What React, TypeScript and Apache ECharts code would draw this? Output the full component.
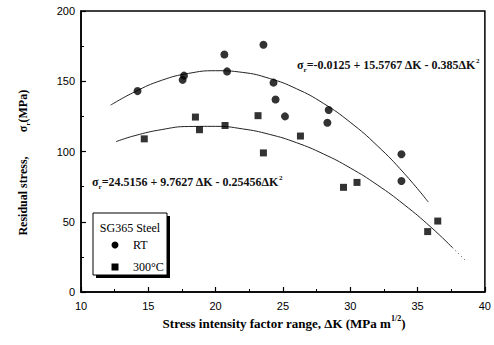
import React, { useEffect, useRef } from "react";
import * as echarts from "echarts";

// RT (room temperature) measured points
const rtK = [14.2, 17.55, 17.65, 20.65, 20.85, 23.55, 24.3, 24.45, 25.15, 28.4, 28.3, 33.8, 33.8];
const rtS = [143, 151, 154, 169, 157, 176, 149, 137, 125, 129.5, 120.5, 98, 79];

// 300°C measured points
const hotK = [14.7, 18.5, 18.8, 20.7, 23.15, 23.55, 26.3, 29.5, 30.5, 35.75, 36.5];
const hotS = [109, 124.5, 115.5, 118.5, 125.5, 99, 111, 74.5, 78, 43, 50.5];

// fitted curves
const rtFitK = [12.2, 14, 16, 18, 20, 22, 24, 26, 28, 30, 32, 34, 35.8];
const rtFitS = [133, 142.5, 150.7, 155.6, 157.5, 156.3, 152, 144.7, 134.3, 120.8, 104.2, 84.5, 64];
const hotFitK = [12.6, 14, 16, 18, 20, 22, 24, 26, 28, 30, 32, 34, 36, 37.6];
const hotFitS = [107, 111.3, 115.6, 117.8, 117.9, 116.1, 112.2, 106.3, 98.3, 88.3, 76.3, 62.2, 46.1, 31.5];
const hotTailK = [37.6, 38.5];
const hotTailS = [31.5, 23];

const xTickMin = 10;
const xTickMax = 40;
const xStep = 5;
const yTickMin = 0;
const yTickMax = 200;
const yStep = 50;

const eqRT = "σr=-0.0125 + 15.5767 ΔK - 0.385ΔK²";
const eqHot = "σr=24.5156 + 9.7627 ΔK - 0.25456ΔK²";
const legendTitle = "SG365 Steel";
const legendRT = "RT";
const legendHot = "300°C";

const SERIF = "'Liberation Serif', 'Times New Roman', serif";
const SANS = "'Liberation Sans', Arial, sans-serif";

const pairs = (xs: number[], ys: number[]) => xs.map((x, i) => [x, ys[i]]);

const eqRich = {
  m: { fontSize: 12, fontWeight: "bold", fontFamily: SERIF, fill: "#111", lineHeight: 16, verticalAlign: "middle" },
  s: { fontSize: 7, fontWeight: "bold", fontFamily: SERIF, fill: "#111", lineHeight: 8, verticalAlign: "bottom" },
  p: { fontSize: 7, fontWeight: "bold", fontFamily: SERIF, fill: "#111", lineHeight: 8, verticalAlign: "top" },
};

const eqText = (s: string) => {
  const body = s.slice(2, s.length - 1);
  return `{m|σ}{s|r}{m|${body}}{p|2}`;
};

export default function App() {
  const ref = useRef<HTMLDivElement>(null);
  useEffect(() => {
    if (!ref.current) return;
    const chart = echarts.init(ref.current, undefined, { renderer: "svg" });
    const axisLine = { show: true, lineStyle: { color: "#000", width: 1.5 } };
    chart.setOption({
      animation: false,
      backgroundColor: "#fff",
      grid: { left: 81, right: 9, top: 11, bottom: 53, show: true, borderColor: "#000", borderWidth: 1.5, backgroundColor: "transparent" },
      xAxis: {
        type: "value",
        min: xTickMin,
        max: xTickMax,
        interval: xStep,
        axisLine,
        axisTick: { inside: true, length: 5, lineStyle: { color: "#000", width: 1.2 } },
        minorTick: { show: true, splitNumber: 2, length: 3, lineStyle: { color: "#000", width: 1 } },
        splitLine: { show: false },
        axisLabel: { color: "#000", fontFamily: SANS, fontSize: 11, margin: 8 },
      },
      yAxis: {
        type: "value",
        min: yTickMin,
        max: yTickMax,
        interval: yStep,
        axisLine,
        axisTick: { inside: true, length: 5, lineStyle: { color: "#000", width: 1.2 } },
        minorTick: { show: true, splitNumber: 2, length: 3, lineStyle: { color: "#000", width: 1 } },
        splitLine: { show: false },
        axisLabel: { color: "#000", fontFamily: SANS, fontSize: 11, margin: 6 },
      },
      series: [
        {
          name: "RT fit",
          type: "line",
          data: pairs(rtFitK, rtFitS),
          smooth: true,
          symbol: "none",
          lineStyle: { color: "#222", width: 1 },
          z: 1,
        },
        {
          name: "300 fit",
          type: "line",
          data: pairs(hotFitK, hotFitS),
          smooth: true,
          symbol: "none",
          lineStyle: { color: "#222", width: 1 },
          z: 1,
        },
        {
          name: "300 tail",
          type: "line",
          data: pairs(hotTailK, hotTailS),
          symbol: "none",
          lineStyle: { color: "#444", width: 1, type: [1, 3] },
          z: 1,
        },
        {
          name: legendRT,
          type: "scatter",
          data: pairs(rtK, rtS),
          symbol: "circle",
          symbolSize: 8,
          itemStyle: { color: "#000" },
          z: 3,
        },
        {
          name: legendHot,
          type: "scatter",
          data: pairs(hotK, hotS),
          symbol: "rect",
          symbolSize: 7,
          itemStyle: { color: "#000" },
          z: 3,
        },
      ],
      graphic: [
        {
          type: "text",
          x: 297,
          y: 65,
          style: { text: eqText(eqRT), rich: eqRich, align: "left", textAlign: "left", verticalAlign: "middle", textVerticalAlign: "middle" },
          z: 10,
        },
        {
          type: "text",
          x: 92,
          y: 182,
          style: { text: eqText(eqHot), rich: eqRich, align: "left", textAlign: "left", verticalAlign: "middle", textVerticalAlign: "middle" },
          z: 10,
        },
        // x-axis title
        {
          type: "text",
          x: 284,
          y: 323,
          style: {
            text: "{t|Stress intensity factor range, ΔK (MPa m}{p|1/2}{t|)}",
            rich: {
              t: { fontSize: 13, fontWeight: "bold", fontFamily: SERIF, fill: "#000", lineHeight: 18, verticalAlign: "middle" },
              p: { fontSize: 8, fontWeight: "bold", fontFamily: SERIF, fill: "#000", lineHeight: 9, verticalAlign: "top" },
            },
            align: "center",
            textAlign: "center",
            verticalAlign: "middle",
            textVerticalAlign: "middle",
          },
        },
        // y-axis title, part 1
        {
          type: "text",
          x: 23,
          y: 196,
          rotation: Math.PI / 2,
          style: {
            text: "Residual stress,",
            fontSize: 12,
            fontWeight: "bold",
            fontFamily: SERIF,
            fill: "#000",
            align: "center",
            textAlign: "center",
            verticalAlign: "middle",
            textVerticalAlign: "middle",
          },
        },
        // y-axis title, part 2
        {
          type: "text",
          x: 23,
          y: 111,
          rotation: Math.PI / 2,
          style: {
            text: "{t|σ}{s|r}{t|(MPa)}",
            rich: {
              t: { fontSize: 12, fontWeight: "bold", fontFamily: SERIF, fill: "#000", lineHeight: 16, verticalAlign: "middle" },
              s: { fontSize: 7, fontWeight: "bold", fontFamily: SERIF, fill: "#000", lineHeight: 8, verticalAlign: "bottom" },
            },
            align: "center",
            textAlign: "center",
            verticalAlign: "middle",
            textVerticalAlign: "middle",
          },
        },
        // legend box
        {
          type: "group",
          z: 20,
          children: [
            { type: "rect", shape: { x: 96, y: 216, width: 74, height: 62 }, style: { fill: "#000" } },
            { type: "rect", shape: { x: 93, y: 213, width: 74, height: 62 }, style: { fill: "#fff", stroke: "#000", lineWidth: 1 } },
            {
              type: "text",
              x: 130,
              y: 228,
              style: { text: legendTitle, fontSize: 12, fontFamily: SERIF, fill: "#000", align: "center", textAlign: "center", verticalAlign: "middle", textVerticalAlign: "middle" },
            },
            { type: "circle", shape: { cx: 115, cy: 245, r: 3.5 }, style: { fill: "#000" } },
            {
              type: "text",
              x: 133,
              y: 245,
              style: { text: legendRT, fontSize: 12, fontFamily: SERIF, fill: "#000", align: "left", textAlign: "left", verticalAlign: "middle", textVerticalAlign: "middle" },
            },
            { type: "rect", shape: { x: 111.5, y: 263.5, width: 7, height: 7 }, style: { fill: "#000" } },
            {
              type: "text",
              x: 133,
              y: 267,
              style: { text: legendHot, fontSize: 12, fontFamily: SERIF, fill: "#000", align: "left", textAlign: "left", verticalAlign: "middle", textVerticalAlign: "middle" },
            },
          ],
        },
      ],
    });
    return () => chart.dispose();
  }, []);
  return <div ref={ref} style={{ width: 494, height: 345, position: "absolute", left: 0, top: 0 }} />;
}
